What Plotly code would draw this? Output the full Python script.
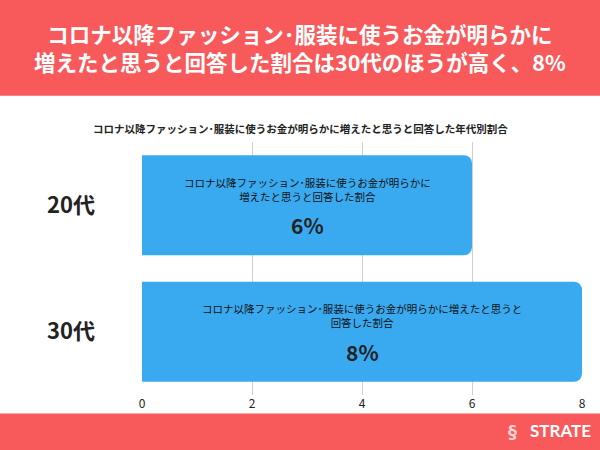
import plotly.graph_objects as go

categories = ["20代", "30代"]
values = [6, 8]
bar_labels = ["コロナ以降ファッション･服装に使うお金が明らかに<br>増えたと思うと回答した割合",
              "コロナ以降ファッション･服装に使うお金が明らかに増えたと思うと<br>回答した割合"]
tick_vals = [0, 2, 4, 6, 8]

title = "コロナ以降ファッション･服装に使うお金が明らかに<br>増えたと思うと回答した割合は30代のほうが高く、8%"
subtitle = "コロナ以降ファッション･服装に使うお金が明らかに増えたと思うと回答した年代別割合"
F = "Noto Sans CJK JP"
RED = "#F85A5C"
BLUE = "#3AAAF0"

PX0, PW, PY0, PY1 = 142, 440, 141.5, 395.5
def px(x): return (x - PX0) / PW
def py(y): return (PY1 - y) / (PY1 - PY0)

fig = go.Figure(go.Bar(x=values, y=categories, orientation="h", marker_color=BLUE,
                       marker_line_width=0, hoverinfo="skip"))
ann = []
for c, v, t in zip(categories, values, bar_labels):
    ann.append(dict(x=v/2, y=c, xref="x", yref="y", yshift=16, text=t, showarrow=False,
                    font=dict(family=F, size=10.5, color="#111")))
    ann.append(dict(x=v/2, y=c, xref="x", yref="y", yshift=-20, text=f"<b>{v}%</b>", showarrow=False,
                    font=dict(family=F, size=21, color="#222")))
ann.append(dict(x=px(300), y=py(47), xref="paper", yref="paper", text=f"<b>{title}</b>", showarrow=False,
                font=dict(family=F, size=21.5, color="white"), xanchor="center", yanchor="middle"))
ann.append(dict(x=px(300), y=py(128), xref="paper", yref="paper", text=f"<b>{subtitle}</b>", showarrow=False,
                font=dict(family=F, size=10.5, color="#222"), xanchor="center", yanchor="middle"))
ann.append(dict(x=px(560), y=py(431), xref="paper", yref="paper", text="<b>STRATE</b>", showarrow=False,
                font=dict(family="Lato", size=17, color="white"), xanchor="center", yanchor="middle"))
ann.append(dict(x=px(512), y=py(432), xref="paper", yref="paper", text="<b>§</b>", showarrow=False,
                font=dict(family="DejaVu Sans", size=18, color="#FBD0D0"), xanchor="center", yanchor="middle"))

fig.update_layout(
    width=600, height=450, paper_bgcolor="white", plot_bgcolor="white",
    margin=dict(l=142, r=18, t=141.5, b=54.5),
    bargap=0.21, barcornerradius=8, showlegend=False,
    xaxis=dict(range=[0, 8], tickvals=tick_vals, showgrid=True, gridcolor="#d0d0d0", gridwidth=1,
               zeroline=False, showline=False, ticks="", tickfont=dict(family=F, size=12, color="#222"),
               fixedrange=True),
    yaxis=dict(autorange="reversed", ticks="", ticklabelstandoff=46,
               tickfont=dict(family=F, size=22, color="#222", weight="bold")),
    shapes=[dict(type="rect", xref="paper", yref="paper", x0=px(-10), x1=px(610), y0=py(95), y1=py(-10),
                 fillcolor=RED, line_width=0, layer="below"),
            dict(type="rect", xref="paper", yref="paper", x0=px(-10), x1=px(610), y0=py(460), y1=py(414),
                 fillcolor=RED, line_width=0, layer="below")],
    annotations=ann,
)
fig.write_html("out.html", config={"displayModeBar": False},
               post_script="document.body.style.margin='0';")
